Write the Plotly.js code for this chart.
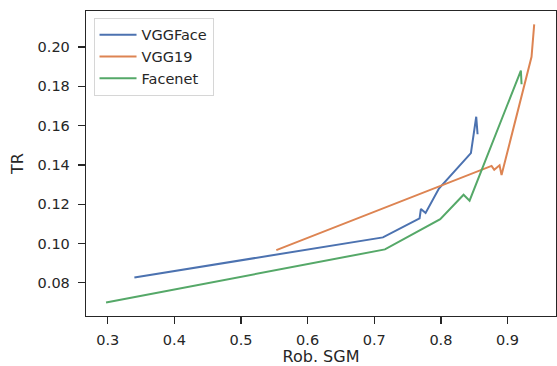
<!DOCTYPE html>
<html>
<head>
<meta charset="utf-8">
<script src="https://cdn.plot.ly/plotly-3.0.1.min.js"></script>
<style>html,body{margin:0;padding:0;background:#fff;}#chart{width:557px;height:366px;}</style>
</head>
<body>
<div id="chart"></div>
<script>
const seriesNames = ["VGGFace", "VGG19", "Facenet"];
const vggfaceX = [0.340, 0.713, 0.768, 0.770, 0.777, 0.797, 0.845, 0.853, 0.855];
const vggfaceY = [0.0827, 0.1031, 0.1128, 0.1176, 0.1155, 0.128, 0.146, 0.1645, 0.1556];
const vgg19X = [0.553, 0.876, 0.880, 0.888, 0.891, 0.936, 0.940];
const vgg19Y = [0.0966, 0.1395, 0.1375, 0.1398, 0.1348, 0.195, 0.2115];
const facenetX = [0.2975, 0.716, 0.799, 0.834, 0.843, 0.918, 0.920, 0.921];
const facenetY = [0.070, 0.097, 0.1124, 0.1248, 0.1218, 0.186, 0.188, 0.181];
const xTicks = [0.3, 0.4, 0.5, 0.6, 0.7, 0.8, 0.9];
const yTicks = [0.08, 0.10, 0.12, 0.14, 0.16, 0.18, 0.20];
const yTickText = ["0.08", "0.10", "0.12", "0.14", "0.16", "0.18", "0.20"];
const colors = ["#4c72b0", "#dd8452", "#55a868"];

const xs = [vggfaceX, vgg19X, facenetX];
const ys = [vggfaceY, vgg19Y, facenetY];
const traces = seriesNames.map((n, i) => ({
  x: xs[i], y: ys[i], name: n, type: "scatter", mode: "lines",
  line: {color: colors[i], width: 2}
}));

const axisCommon = {
  showline: true, mirror: true, linecolor: "#262626", linewidth: 1.25,
  ticks: "outside", ticklen: 7, tickwidth: 1.25, tickcolor: "#262626",
  showgrid: false, zeroline: false,
  tickfont: {family: "DejaVu Sans", size: 14.5, color: "#262626"}
};

const layout = {
  width: 557, height: 366,
  margin: {l: 86, r: 1, t: 11, b: 50},
  paper_bgcolor: "#fff", plot_bgcolor: "#fff",
  font: {family: "DejaVu Sans", color: "#262626"},
  showlegend: true,
  legend: {
    x: 0.016, y: 0.978, xanchor: "left", yanchor: "top",
    bgcolor: "rgba(255,255,255,0.8)", bordercolor: "#d6d6d6", borderwidth: 1,
    font: {family: "DejaVu Sans", size: 14.5, color: "#262626"},
    tracegroupgap: 0, itemwidth: 37
  },
  xaxis: Object.assign({}, axisCommon, {
    range: [0.2674, 0.9727],
    tickvals: xTicks,
    ticklabelstandoff: 3,
    title: {text: "Rob. SGM", font: {family: "DejaVu Sans", size: 16, color: "#262626"}, standoff: 9}
  }),
  yaxis: Object.assign({}, axisCommon, {
    range: [0.0631, 0.2183],
    tickvals: yTicks, ticktext: yTickText,
    ticklabelstandoff: 5,
    title: {text: "TR", font: {family: "DejaVu Sans", size: 16, color: "#262626"}, standoff: 10}
  })
};

Plotly.newPlot("chart", traces, layout, {displayModeBar: false, staticPlot: true});
</script>
</body>
</html>
